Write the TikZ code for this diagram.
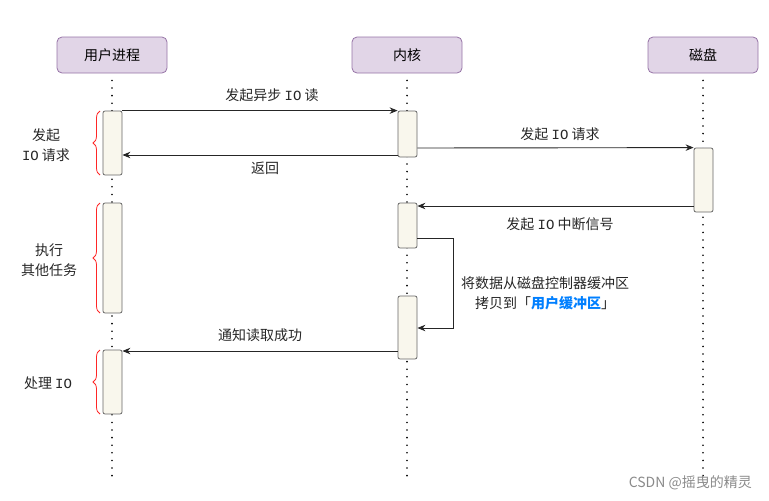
\documentclass[tikz,border=0pt]{standalone}
\usepackage{fontspec}
\setmainfont{Noto Sans CJK SC}
\newfontfamily\iofont{Liberation Mono}
\newcommand{\IOtxt}{{\iofont IO}}
\usetikzlibrary{arrows.meta,decorations.pathreplacing,calc}
\definecolor{boxfill}{HTML}{E1D5E7}
\definecolor{boxline}{HTML}{9673A6}
\definecolor{actfill}{HTML}{F9F7ED}
\definecolor{actline}{HTML}{666666}
\definecolor{linkblue}{HTML}{007FFF}
\definecolor{wm}{HTML}{8A8A8A}
\begin{document}
\begin{tikzpicture}[x=1pt,y=-1pt,
  font=\fontsize{14}{20}\selectfont,
  party/.style={draw=boxline,fill=boxfill,rounded corners=5pt,line width=0.8pt,minimum width=110pt,minimum height=36pt,inner sep=0pt},
  act/.style={draw=actline,fill=actfill,rounded corners=2pt,line width=0.8pt,minimum width=19pt,inner sep=0pt},
  life/.style={line width=1.8pt,dash pattern=on 0pt off 7.6pt,line cap=round},
  msg/.style={draw=black!85,line width=0.9pt,-{Stealth[length=8pt,width=6.5pt]}},
  brc/.style={draw=red!85,line width=0.8pt,decorate,decoration={brace,amplitude=7pt}},
  lbl/.style={inner sep=0pt,align=center,text=black!85}]
\useasboundingbox (0,0) rectangle (769,501);
% participants
\node[party] (user) at (112,55) {用户进程};
\node[party] (kern) at (407,55) {内核};
\node[party] (disk) at (703,55) {磁盘};
% lifelines
\coordinate (uend) at (112,481);
\coordinate (kend) at (407,481);
\coordinate (dend) at (703,481);
\draw[life] ($(user.south)+(0,7)$) -- (uend);
\draw[life] ($(kern.south)+(0,7)$) -- (kend);
\draw[life] ($(disk.south)+(0,7)$) -- (dend);
% activation boxes
\node[act,minimum height=64pt] (ua1) at (112.5,143) {};
\node[act,minimum height=110pt] (ua2) at (112.5,258) {};
\node[act,minimum height=64pt] (ua3) at (112.5,382) {};
\node[act,minimum height=46pt] (ka1) at (407.5,134) {};
\node[act,minimum height=45pt] (ka2) at (407.5,225.5) {};
\node[act,minimum height=63pt] (ka3) at (407.5,327.5) {};
\node[act,minimum height=64pt] (da1) at (703.5,180) {};
% messages
\draw[msg] (ua1.north east) -- (ka1.north west);
\node[lbl] (m1) at (272,95) {发起异步 \IOtxt{} 读};
\coordinate (k155) at (ka1.west |- 0,155);
\coordinate (u155) at (ua1.east |- 0,155);
\draw[msg] (k155) -- (u155);
\node[lbl] (m2) at (265,168) {返回};
\coordinate (k148) at (ka1.east |- 0,148);
\draw[msg] (k148) -- (da1.north west);
\node[lbl] (m3) at (560,134) {发起 \IOtxt{} 请求};
\coordinate (d206) at (da1.west |- 0,206);
\coordinate (k206) at (ka2.east |- 0,206);
\draw[msg] (d206) -- (k206);
\node[lbl] (m4) at (560,224) {发起 \IOtxt{} 中断信号};
\coordinate (k238) at (ka2.east |- 0,238);
\coordinate (k328) at (ka3.east |- 0,328);
\draw[msg] (k238) -- (453,238) -- (453,328) -- (k328);
\node[lbl] (m5) at (545,293) {将数据从磁盘控制器缓冲区\\拷贝到「\textcolor{linkblue}{\bfseries 用户缓冲区}」};
\coordinate (k351) at (ka3.west |- 0,351);
\coordinate (u351) at (ua3.east |- 0,351);
\draw[msg] (k351) -- (u351);
\node[lbl] (m6) at (260,335) {通知读取成功};
% braces
\draw[brc] (100,175) -- (100,111);
\draw[brc] (100,313) -- (100,203);
\draw[brc] (100,414) -- (100,350);
\node[lbl] (b1) at (46,145) {发起\\\IOtxt{} 请求};
\node[lbl] (b2) at (49,260) {执行\\其他任务};
\node[lbl] (b3) at (48,383) {处理 \IOtxt};
% watermark
\node[lbl,text=wm,anchor=east] (wmk) at (752,483) {CSDN @摇曳的精灵};
\end{tikzpicture}
\end{document}
